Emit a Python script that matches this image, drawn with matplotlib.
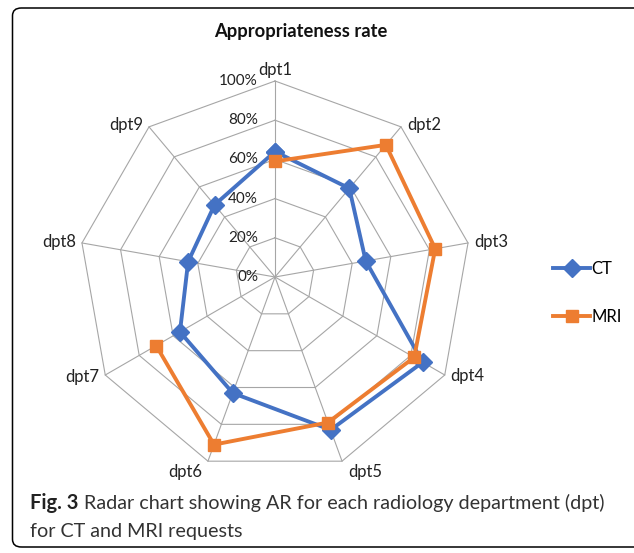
import numpy as np
import matplotlib
matplotlib.use("Agg")
import matplotlib.pyplot as plt
from matplotlib.patches import FancyBboxPatch

DEPTS = ["dpt1", "dpt2", "dpt3", "dpt4", "dpt5", "dpt6", "dpt7", "dpt8", "dpt9"]
CT = [64, 59, 47, 87, 83, 63, 56, 45, 48]
MRI = [59, 88, 83, 82, 79, 91, 70, np.nan, np.nan]   # no MRI data for dpt8/dpt9
RINGS = [0, 20, 40, 60, 80, 100]

W, H = 634, 553
plt.rcParams["font.family"] = ["Lato", "DejaVu Sans"]

fig = plt.figure(figsize=(W / 100, H / 100), dpi=100)
fig.patch.set_facecolor("white")

# outer rounded frame
frame = FancyBboxPatch((12.5 / W, 1 - 547 / H), (W + 20) / W, (547 - 8) / H,
                       boxstyle="round,pad=0,rounding_size=0.014",
                       transform=fig.transFigure, fill=False, ec="black",
                       lw=1.1, clip_on=False)
fig.patches.append(frame)

# polar axes: centre (275, 277) px, radius 196 px
cx, cy, R = 275, 277, 196
ax = fig.add_axes([(cx - R) / W, (H - cy - R) / H, 2 * R / W, 2 * R / H],
                  projection="polar")
ax.set_theta_zero_location("N")
ax.set_theta_direction(-1)
ax.set_ylim(0, 1)
ax.set_axis_off()

theta = np.arange(len(DEPTS)) * 2 * np.pi / len(DEPTS)
closed = np.append(theta, theta[0])

grid_kw = dict(color="#a6a6a6", lw=0.8, zorder=1, clip_on=False)
for r in RINGS[1:]:
    ax.plot(closed, np.full(len(closed), r / 100), **grid_kw)
for t in theta:
    ax.plot([t, t], [0, 1], **grid_kw)

for r in RINGS:
    ax.annotate(f"{r}%", xy=(0, r / 100), xytext=(-17, 0), textcoords="offset pixels",
                ha="right", va="center", fontsize=11, color="#222222")

for t, lab in zip(theta, DEPTS):
    s, c = np.sin(t), np.cos(t)
    ha = "center" if abs(s) < 0.1 else ("left" if s > 0 else "right")
    va = "bottom" if c > 0.9 else ("top" if c < -0.9 else "center")
    ax.annotate(lab, xy=(t, 1.0), xytext=(6 * np.sign(s) if abs(s) > 0.1 else 0, 3 * c),
                textcoords="offset pixels", ha=ha, va=va, fontsize=12, color="#222222")

ct_v = np.append(CT, CT[0]) / 100
l_ct, = ax.plot(closed, ct_v, color="#4472c4", lw=2.8, marker="D", ms=9,
                zorder=3, clip_on=False, label="CT")
l_mri, = ax.plot(theta, np.array(MRI) / 100, color="#ed7d31", lw=2.8, marker="s",
                 ms=9, zorder=4, clip_on=False, label="MRI")

fig.text(301 / W, 1 - 32 / H, "Appropriateness rate", ha="center", va="center",
         fontsize=13.2, fontweight="bold", color="#111111")

fig.legend(handles=[l_ct, l_mri], loc="center left",
           bbox_to_anchor=(545 / W, 1 - 293 / H), frameon=False, fontsize=12,
           handlelength=2.2, handletextpad=0.1, labelspacing=1.9, borderpad=0)

# caption
cap1 = fig.text(30 / W, 1 - 503 / H, "Fig. 3", ha="left", va="center",
                fontsize=14.5, fontweight="bold", color="#222222")
fig.canvas.draw()
bb = cap1.get_window_extent()
fig.text((bb.x1 + 5) / W, 1 - 503 / H,
         "Radar chart showing AR for each radiology department (dpt)",
         ha="left", va="center", fontsize=14.2, color="#333333")
fig.text(30 / W, 1 - 531 / H, "for CT and MRI requests", ha="left", va="center",
         fontsize=14.2, color="#333333")

fig.savefig("out.png", dpi=100)
